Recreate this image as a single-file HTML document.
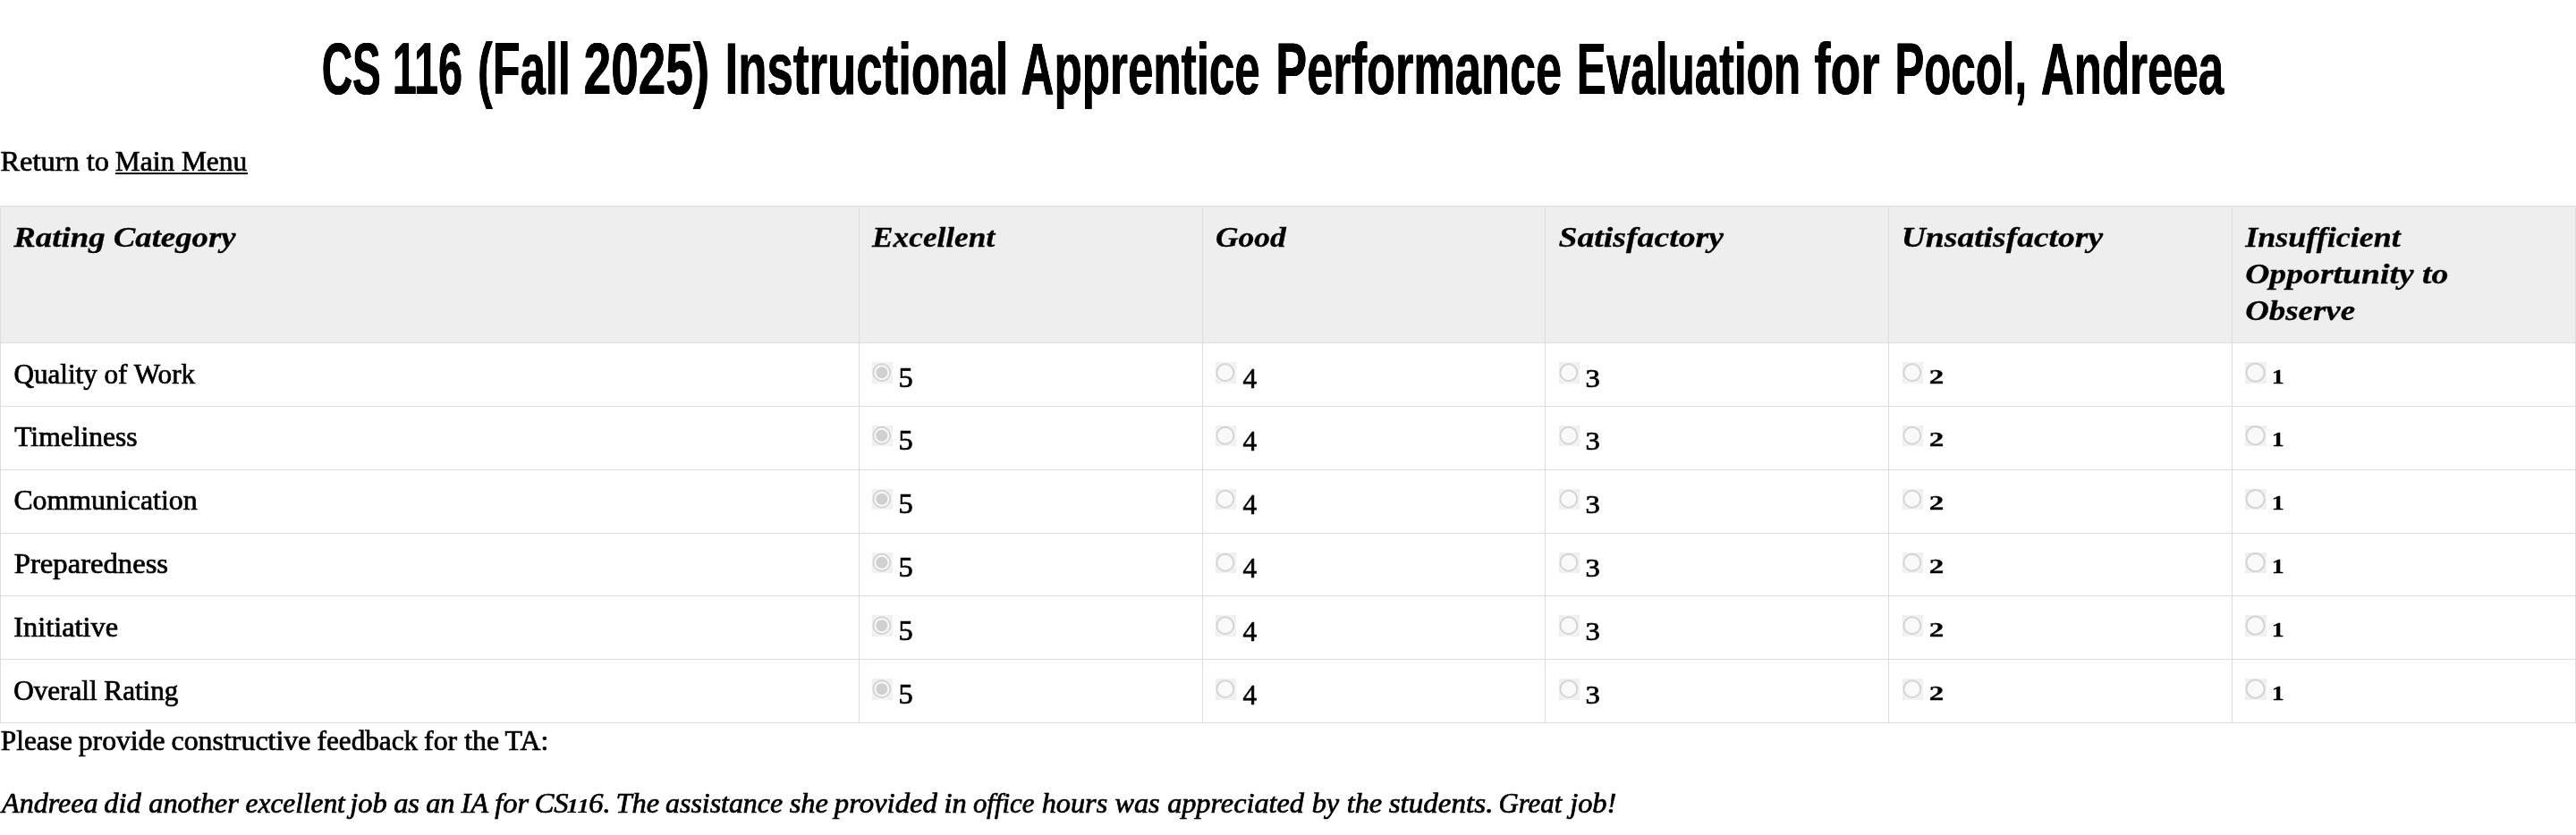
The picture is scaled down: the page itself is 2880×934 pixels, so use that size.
<!DOCTYPE html>
<html><head><meta charset="utf-8"><title>Instructional Apprentice Performance Evaluation</title>
<style>
html,body{margin:0;padding:0;background:#fff;}
body{width:2880px;height:934px;position:relative;overflow:hidden;font-family:"Liberation Serif",serif;}
.t{position:absolute;white-space:nowrap;transform-origin:0 0;margin:0;padding:0;color:#000;}
#w{position:absolute;left:0;top:0;width:2880px;height:934px;will-change:transform;}
.b{position:absolute;display:block;}
</style></head><body>
<svg width="0" height="0" style="position:absolute"><defs><radialGradient id="g" cx="50%" cy="50%" r="70%"><stop offset="0" stop-color="#f8f8f8"/><stop offset="0.6" stop-color="#f5f5f5"/><stop offset="1" stop-color="#ececec"/></radialGradient></defs></svg>
<div class="b" style="left:0;top:231px;width:2880px;height:152px;background:#eee"></div>
<div class="b" style="left:0;top:230px;width:2880px;height:1px;background:#ddd"></div>
<div class="b" style="left:0;top:383px;width:2880px;height:1px;background:#ddd"></div>
<div class="b" style="left:0;top:454px;width:2880px;height:1px;background:#ddd"></div>
<div class="b" style="left:0;top:525px;width:2880px;height:1px;background:#ddd"></div>
<div class="b" style="left:0;top:596px;width:2880px;height:1px;background:#ddd"></div>
<div class="b" style="left:0;top:666px;width:2880px;height:1px;background:#ddd"></div>
<div class="b" style="left:0;top:737px;width:2880px;height:1px;background:#ddd"></div>
<div class="b" style="left:0;top:808px;width:2880px;height:1px;background:#ddd"></div>
<div class="b" style="left:0px;top:230px;width:1px;height:579px;background:#ddd"></div>
<div class="b" style="left:960px;top:230px;width:1px;height:579px;background:#ddd"></div>
<div class="b" style="left:1344px;top:230px;width:1px;height:579px;background:#ddd"></div>
<div class="b" style="left:1727px;top:230px;width:1px;height:579px;background:#ddd"></div>
<div class="b" style="left:2111px;top:230px;width:1px;height:579px;background:#ddd"></div>
<div class="b" style="left:2495px;top:230px;width:1px;height:579px;background:#ddd"></div>
<div class="b" style="left:2879px;top:230px;width:1px;height:579px;background:#ddd"></div>
<div class="b" style="left:129px;top:193px;width:148px;height:2px;background:#000"></div>
<svg class="b" style="left:975px;top:405px" width="23" height="24" viewBox="0 0 23 24"><rect width="23" height="24" fill="url(#g)"/><circle cx="10.85" cy="11.65" r="9.5" fill="#f9f9f9" stroke="#d4d4d4" stroke-width="2"/><circle cx="10.85" cy="11.65" r="6.5" fill="#d0d0d0"/></svg>
<svg class="b" style="left:1359px;top:405px" width="23" height="24" viewBox="0 0 23 24"><rect width="23" height="24" fill="url(#g)"/><circle cx="10.85" cy="11.65" r="9.5" fill="#f9f9f9" stroke="#d4d4d4" stroke-width="2"/></svg>
<svg class="b" style="left:1743px;top:405px" width="23" height="24" viewBox="0 0 23 24"><rect width="23" height="24" fill="url(#g)"/><circle cx="10.85" cy="11.65" r="9.5" fill="#f9f9f9" stroke="#d4d4d4" stroke-width="2"/></svg>
<svg class="b" style="left:2127px;top:405px" width="23" height="24" viewBox="0 0 23 24"><rect width="23" height="24" fill="url(#g)"/><circle cx="10.85" cy="11.65" r="9.5" fill="#f9f9f9" stroke="#d4d4d4" stroke-width="2"/></svg>
<svg class="b" style="left:2510px;top:405px" width="24" height="24" viewBox="0 0 24 24"><rect width="24" height="24" fill="url(#g)"/><circle cx="11.6" cy="11.65" r="10.1" fill="#f9f9f9" stroke="#d4d4d4" stroke-width="2"/></svg>
<svg class="b" style="left:975px;top:476px" width="23" height="23" viewBox="0 0 23 23"><rect width="23" height="23" fill="url(#g)"/><circle cx="10.85" cy="11.15" r="9.5" fill="#f9f9f9" stroke="#d4d4d4" stroke-width="2"/><circle cx="10.85" cy="11.15" r="6.5" fill="#d0d0d0"/></svg>
<svg class="b" style="left:1359px;top:476px" width="23" height="23" viewBox="0 0 23 23"><rect width="23" height="23" fill="url(#g)"/><circle cx="10.85" cy="11.15" r="9.5" fill="#f9f9f9" stroke="#d4d4d4" stroke-width="2"/></svg>
<svg class="b" style="left:1743px;top:476px" width="23" height="23" viewBox="0 0 23 23"><rect width="23" height="23" fill="url(#g)"/><circle cx="10.85" cy="11.15" r="9.5" fill="#f9f9f9" stroke="#d4d4d4" stroke-width="2"/></svg>
<svg class="b" style="left:2127px;top:476px" width="23" height="23" viewBox="0 0 23 23"><rect width="23" height="23" fill="url(#g)"/><circle cx="10.85" cy="11.15" r="9.5" fill="#f9f9f9" stroke="#d4d4d4" stroke-width="2"/></svg>
<svg class="b" style="left:2510px;top:476px" width="24" height="23" viewBox="0 0 24 23"><rect width="24" height="23" fill="url(#g)"/><circle cx="11.6" cy="11.15" r="10.1" fill="#f9f9f9" stroke="#d4d4d4" stroke-width="2"/></svg>
<svg class="b" style="left:975px;top:547px" width="23" height="23" viewBox="0 0 23 23"><rect width="23" height="23" fill="url(#g)"/><circle cx="10.85" cy="11.15" r="9.5" fill="#f9f9f9" stroke="#d4d4d4" stroke-width="2"/><circle cx="10.85" cy="11.15" r="6.5" fill="#d0d0d0"/></svg>
<svg class="b" style="left:1359px;top:547px" width="23" height="23" viewBox="0 0 23 23"><rect width="23" height="23" fill="url(#g)"/><circle cx="10.85" cy="11.15" r="9.5" fill="#f9f9f9" stroke="#d4d4d4" stroke-width="2"/></svg>
<svg class="b" style="left:1743px;top:547px" width="23" height="23" viewBox="0 0 23 23"><rect width="23" height="23" fill="url(#g)"/><circle cx="10.85" cy="11.15" r="9.5" fill="#f9f9f9" stroke="#d4d4d4" stroke-width="2"/></svg>
<svg class="b" style="left:2127px;top:547px" width="23" height="23" viewBox="0 0 23 23"><rect width="23" height="23" fill="url(#g)"/><circle cx="10.85" cy="11.15" r="9.5" fill="#f9f9f9" stroke="#d4d4d4" stroke-width="2"/></svg>
<svg class="b" style="left:2510px;top:547px" width="24" height="23" viewBox="0 0 24 23"><rect width="24" height="23" fill="url(#g)"/><circle cx="11.6" cy="11.15" r="10.1" fill="#f9f9f9" stroke="#d4d4d4" stroke-width="2"/></svg>
<svg class="b" style="left:975px;top:618px" width="23" height="23" viewBox="0 0 23 23"><rect width="23" height="23" fill="url(#g)"/><circle cx="10.85" cy="11.15" r="9.5" fill="#f9f9f9" stroke="#d4d4d4" stroke-width="2"/><circle cx="10.85" cy="11.15" r="6.5" fill="#d0d0d0"/></svg>
<svg class="b" style="left:1359px;top:618px" width="23" height="23" viewBox="0 0 23 23"><rect width="23" height="23" fill="url(#g)"/><circle cx="10.85" cy="11.15" r="9.5" fill="#f9f9f9" stroke="#d4d4d4" stroke-width="2"/></svg>
<svg class="b" style="left:1743px;top:618px" width="23" height="23" viewBox="0 0 23 23"><rect width="23" height="23" fill="url(#g)"/><circle cx="10.85" cy="11.15" r="9.5" fill="#f9f9f9" stroke="#d4d4d4" stroke-width="2"/></svg>
<svg class="b" style="left:2127px;top:618px" width="23" height="23" viewBox="0 0 23 23"><rect width="23" height="23" fill="url(#g)"/><circle cx="10.85" cy="11.15" r="9.5" fill="#f9f9f9" stroke="#d4d4d4" stroke-width="2"/></svg>
<svg class="b" style="left:2510px;top:618px" width="24" height="23" viewBox="0 0 24 23"><rect width="24" height="23" fill="url(#g)"/><circle cx="11.6" cy="11.15" r="10.1" fill="#f9f9f9" stroke="#d4d4d4" stroke-width="2"/></svg>
<svg class="b" style="left:975px;top:688px" width="23" height="24" viewBox="0 0 23 24"><rect width="23" height="24" fill="url(#g)"/><circle cx="10.85" cy="11.65" r="9.5" fill="#f9f9f9" stroke="#d4d4d4" stroke-width="2"/><circle cx="10.85" cy="11.65" r="6.5" fill="#d0d0d0"/></svg>
<svg class="b" style="left:1359px;top:688px" width="23" height="24" viewBox="0 0 23 24"><rect width="23" height="24" fill="url(#g)"/><circle cx="10.85" cy="11.65" r="9.5" fill="#f9f9f9" stroke="#d4d4d4" stroke-width="2"/></svg>
<svg class="b" style="left:1743px;top:688px" width="23" height="24" viewBox="0 0 23 24"><rect width="23" height="24" fill="url(#g)"/><circle cx="10.85" cy="11.65" r="9.5" fill="#f9f9f9" stroke="#d4d4d4" stroke-width="2"/></svg>
<svg class="b" style="left:2127px;top:688px" width="23" height="24" viewBox="0 0 23 24"><rect width="23" height="24" fill="url(#g)"/><circle cx="10.85" cy="11.65" r="9.5" fill="#f9f9f9" stroke="#d4d4d4" stroke-width="2"/></svg>
<svg class="b" style="left:2510px;top:688px" width="24" height="24" viewBox="0 0 24 24"><rect width="24" height="24" fill="url(#g)"/><circle cx="11.6" cy="11.65" r="10.1" fill="#f9f9f9" stroke="#d4d4d4" stroke-width="2"/></svg>
<svg class="b" style="left:975px;top:759px" width="23" height="24" viewBox="0 0 23 24"><rect width="23" height="24" fill="url(#g)"/><circle cx="10.85" cy="11.65" r="9.5" fill="#f9f9f9" stroke="#d4d4d4" stroke-width="2"/><circle cx="10.85" cy="11.65" r="6.5" fill="#d0d0d0"/></svg>
<svg class="b" style="left:1359px;top:759px" width="23" height="24" viewBox="0 0 23 24"><rect width="23" height="24" fill="url(#g)"/><circle cx="10.85" cy="11.65" r="9.5" fill="#f9f9f9" stroke="#d4d4d4" stroke-width="2"/></svg>
<svg class="b" style="left:1743px;top:759px" width="23" height="24" viewBox="0 0 23 24"><rect width="23" height="24" fill="url(#g)"/><circle cx="10.85" cy="11.65" r="9.5" fill="#f9f9f9" stroke="#d4d4d4" stroke-width="2"/></svg>
<svg class="b" style="left:2127px;top:759px" width="23" height="24" viewBox="0 0 23 24"><rect width="23" height="24" fill="url(#g)"/><circle cx="10.85" cy="11.65" r="9.5" fill="#f9f9f9" stroke="#d4d4d4" stroke-width="2"/></svg>
<svg class="b" style="left:2510px;top:759px" width="24" height="24" viewBox="0 0 24 24"><rect width="24" height="24" fill="url(#g)"/><circle cx="11.6" cy="11.65" r="10.1" fill="#f9f9f9" stroke="#d4d4d4" stroke-width="2"/></svg>
<div id="w">
<div class="t" style="left:359px;top:28px;font:normal bold 82.00px/97px 'Liberation Sans',sans-serif;transform:translate(0.69px,0) scale(0.5809,1);text-shadow:0.45px 0 0 #000,-0.45px 0 0 #000;">CS</div>
<div class="t" style="left:438px;top:28px;font:normal bold 82.00px/97px 'Liberation Sans',sans-serif;transform:translate(0.68px,0) scale(0.5932,1);text-shadow:0.45px 0 0 #000,-0.45px 0 0 #000;">116</div>
<div class="t" style="left:534px;top:28px;font:normal bold 82.00px/97px 'Liberation Sans',sans-serif;transform:translate(0.03px,0) scale(0.6158,1);text-shadow:0.45px 0 0 #000,-0.45px 0 0 #000;">(Fall</div>
<div class="t" style="left:652px;top:28px;font:normal bold 82.00px/97px 'Liberation Sans',sans-serif;transform:translate(0.65px,0) scale(0.6703,1);text-shadow:0.45px 0 0 #000,-0.45px 0 0 #000;">2025)</div>
<div class="t" style="left:810px;top:28px;font:normal bold 82.00px/97px 'Liberation Sans',sans-serif;transform:translate(0.57px,0) scale(0.6439,1);text-shadow:0.45px 0 0 #000,-0.45px 0 0 #000;">Instructional</div>
<div class="t" style="left:1141px;top:28px;font:normal bold 82.00px/97px 'Liberation Sans',sans-serif;transform:translate(0.58px,0) scale(0.6239,1);text-shadow:0.45px 0 0 #000,-0.45px 0 0 #000;">Apprentice</div>
<div class="t" style="left:1426px;top:28px;font:normal bold 82.00px/97px 'Liberation Sans',sans-serif;transform:translate(0.30px,0) scale(0.6380,1);text-shadow:0.45px 0 0 #000,-0.45px 0 0 #000;">Performance</div>
<div class="t" style="left:1762px;top:28px;font:normal bold 82.00px/97px 'Liberation Sans',sans-serif;transform:translate(0.68px,0) scale(0.6040,1);text-shadow:0.45px 0 0 #000,-0.45px 0 0 #000;">Evaluation</div>
<div class="t" style="left:2028px;top:28px;font:normal bold 82.00px/97px 'Liberation Sans',sans-serif;transform:translate(0.27px,0) scale(0.6716,1);text-shadow:0.45px 0 0 #000,-0.45px 0 0 #000;">for</div>
<div class="t" style="left:2118px;top:28px;font:normal bold 82.00px/97px 'Liberation Sans',sans-serif;transform:translate(0.50px,0) scale(0.5999,1);text-shadow:0.45px 0 0 #000,-0.45px 0 0 #000;">Pocol,</div>
<div class="t" style="left:2281px;top:28px;font:normal bold 82.00px/97px 'Liberation Sans',sans-serif;transform:translate(0.88px,0) scale(0.6225,1);text-shadow:0.45px 0 0 #000,-0.45px 0 0 #000;">Andreea</div>
<div class="t" style="left:0px;top:161px;font:normal normal 30.50px/40px 'Liberation Serif',serif;transform:translate(0.54px,0) scale(1.0610,1);-webkit-text-stroke:0.7px #000;">Return to</div>
<div class="t" style="left:128px;top:161px;font:normal normal 30.50px/40px 'Liberation Serif',serif;transform:translate(0.87px,0) scale(1.0286,1);-webkit-text-stroke:0.7px #000;">Main Menu</div>
<div class="t" style="left:15px;top:246px;font:italic bold 30.80px/40px 'Liberation Serif',serif;transform:translate(0.33px,0) scale(1.1942,1);-webkit-text-stroke:0.3px #000;">Rating Category</div>
<div class="t" style="left:975px;top:246px;font:italic bold 30.80px/40px 'Liberation Serif',serif;transform:translate(0.10px,0) scale(1.1447,1);-webkit-text-stroke:0.3px #000;">Excellent</div>
<div class="t" style="left:1358px;top:246px;font:italic bold 30.80px/40px 'Liberation Serif',serif;transform:translate(0.88px,0) scale(1.1533,1);-webkit-text-stroke:0.3px #000;">Good</div>
<div class="t" style="left:1742px;top:246px;font:italic bold 30.80px/40px 'Liberation Serif',serif;transform:translate(0.38px,0) scale(1.2269,1);-webkit-text-stroke:0.3px #000;">Satisfactory</div>
<div class="t" style="left:2125px;top:246px;font:italic bold 30.80px/40px 'Liberation Serif',serif;transform:translate(0.75px,0) scale(1.2196,1);-webkit-text-stroke:0.3px #000;">Unsatisfactory</div>
<div class="t" style="left:2510px;top:246px;font:italic bold 30.80px/40px 'Liberation Serif',serif;transform:translate(0.31px,0) scale(1.1688,1);-webkit-text-stroke:0.3px #000;">Insufficient</div>
<div class="t" style="left:2510px;top:287px;font:italic bold 30.80px/40px 'Liberation Serif',serif;transform:translate(0.13px,0) scale(1.2238,1);-webkit-text-stroke:0.3px #000;">Opportunity to</div>
<div class="t" style="left:2510px;top:328px;font:italic bold 30.80px/40px 'Liberation Serif',serif;transform:translate(0.16px,0) scale(1.1974,1);-webkit-text-stroke:0.3px #000;">Observe</div>
<div class="t" style="left:15px;top:399px;font:normal normal 30.50px/40px 'Liberation Serif',serif;transform:translate(0.40px,0) scale(1.0206,1);-webkit-text-stroke:0.7px #000;">Quality of Work</div>
<div class="t" style="left:1004px;top:403px;font:normal normal 30.53px/40px 'Liberation Serif',serif;transform:translate(0.57px,0) scale(1.0627,1);-webkit-text-stroke:0.7px #000;">5</div>
<div class="t" style="left:1389px;top:403px;font:normal normal 31.06px/41px 'Liberation Serif',serif;transform:translate(0.48px,0) scale(1.0070,1);-webkit-text-stroke:0.7px #000;">4</div>
<div class="t" style="left:1772px;top:403px;font:normal normal 30.30px/40px 'Liberation Serif',serif;transform:translate(0.48px,0) scale(1.0766,1);-webkit-text-stroke:0.7px #000;">3</div>
<div class="t" style="left:2156px;top:405px;font:normal bold 23.64px/32px 'Liberation Serif',serif;transform:translate(0.83px,0) scale(1.4002,1);-webkit-text-stroke:0.3px #000;">2</div>
<div class="t" style="left:2539px;top:405px;font:normal bold 23.79px/32px 'Liberation Serif',serif;transform:translate(0.82px,0) scale(1.1703,1);-webkit-text-stroke:0.3px #000;">1</div>
<div class="t" style="left:16px;top:469px;font:normal normal 30.50px/40px 'Liberation Serif',serif;transform:translate(0.18px,0) scale(1.0353,1);-webkit-text-stroke:0.7px #000;">Timeliness</div>
<div class="t" style="left:1004px;top:473px;font:normal normal 30.53px/40px 'Liberation Serif',serif;transform:translate(0.57px,0) scale(1.0627,1);-webkit-text-stroke:0.7px #000;">5</div>
<div class="t" style="left:1389px;top:473px;font:normal normal 31.06px/41px 'Liberation Serif',serif;transform:translate(0.48px,0) scale(1.0070,1);-webkit-text-stroke:0.7px #000;">4</div>
<div class="t" style="left:1772px;top:473px;font:normal normal 30.30px/40px 'Liberation Serif',serif;transform:translate(0.48px,0) scale(1.0766,1);-webkit-text-stroke:0.7px #000;">3</div>
<div class="t" style="left:2156px;top:475px;font:normal bold 23.64px/32px 'Liberation Serif',serif;transform:translate(0.83px,0) scale(1.4002,1);-webkit-text-stroke:0.3px #000;">2</div>
<div class="t" style="left:2539px;top:475px;font:normal bold 23.79px/32px 'Liberation Serif',serif;transform:translate(0.82px,0) scale(1.1703,1);-webkit-text-stroke:0.3px #000;">1</div>
<div class="t" style="left:15px;top:540px;font:normal normal 30.50px/40px 'Liberation Serif',serif;transform:translate(0.38px,0) scale(1.0443,1);-webkit-text-stroke:0.7px #000;">Communication</div>
<div class="t" style="left:1004px;top:544px;font:normal normal 30.53px/40px 'Liberation Serif',serif;transform:translate(0.57px,0) scale(1.0627,1);-webkit-text-stroke:0.7px #000;">5</div>
<div class="t" style="left:1389px;top:544px;font:normal normal 31.06px/41px 'Liberation Serif',serif;transform:translate(0.48px,0) scale(1.0070,1);-webkit-text-stroke:0.7px #000;">4</div>
<div class="t" style="left:1772px;top:544px;font:normal normal 30.30px/40px 'Liberation Serif',serif;transform:translate(0.48px,0) scale(1.0766,1);-webkit-text-stroke:0.7px #000;">3</div>
<div class="t" style="left:2156px;top:546px;font:normal bold 23.64px/32px 'Liberation Serif',serif;transform:translate(0.83px,0) scale(1.4002,1);-webkit-text-stroke:0.3px #000;">2</div>
<div class="t" style="left:2539px;top:546px;font:normal bold 23.79px/32px 'Liberation Serif',serif;transform:translate(0.82px,0) scale(1.1703,1);-webkit-text-stroke:0.3px #000;">1</div>
<div class="t" style="left:15px;top:611px;font:normal normal 30.50px/40px 'Liberation Serif',serif;transform:translate(0.83px,0) scale(1.0703,1);-webkit-text-stroke:0.7px #000;">Preparedness</div>
<div class="t" style="left:1004px;top:615px;font:normal normal 30.53px/40px 'Liberation Serif',serif;transform:translate(0.57px,0) scale(1.0627,1);-webkit-text-stroke:0.7px #000;">5</div>
<div class="t" style="left:1389px;top:615px;font:normal normal 31.06px/41px 'Liberation Serif',serif;transform:translate(0.48px,0) scale(1.0070,1);-webkit-text-stroke:0.7px #000;">4</div>
<div class="t" style="left:1772px;top:615px;font:normal normal 30.30px/40px 'Liberation Serif',serif;transform:translate(0.48px,0) scale(1.0766,1);-webkit-text-stroke:0.7px #000;">3</div>
<div class="t" style="left:2156px;top:617px;font:normal bold 23.64px/32px 'Liberation Serif',serif;transform:translate(0.83px,0) scale(1.4002,1);-webkit-text-stroke:0.3px #000;">2</div>
<div class="t" style="left:2539px;top:617px;font:normal bold 23.79px/32px 'Liberation Serif',serif;transform:translate(0.82px,0) scale(1.1703,1);-webkit-text-stroke:0.3px #000;">1</div>
<div class="t" style="left:15px;top:682px;font:normal normal 30.50px/40px 'Liberation Serif',serif;transform:translate(0.32px,0) scale(1.0611,1);-webkit-text-stroke:0.7px #000;">Initiative</div>
<div class="t" style="left:1004px;top:686px;font:normal normal 30.53px/40px 'Liberation Serif',serif;transform:translate(0.57px,0) scale(1.0627,1);-webkit-text-stroke:0.7px #000;">5</div>
<div class="t" style="left:1389px;top:686px;font:normal normal 31.06px/41px 'Liberation Serif',serif;transform:translate(0.48px,0) scale(1.0070,1);-webkit-text-stroke:0.7px #000;">4</div>
<div class="t" style="left:1772px;top:686px;font:normal normal 30.30px/40px 'Liberation Serif',serif;transform:translate(0.48px,0) scale(1.0766,1);-webkit-text-stroke:0.7px #000;">3</div>
<div class="t" style="left:2156px;top:688px;font:normal bold 23.64px/32px 'Liberation Serif',serif;transform:translate(0.83px,0) scale(1.4002,1);-webkit-text-stroke:0.3px #000;">2</div>
<div class="t" style="left:2539px;top:688px;font:normal bold 23.79px/32px 'Liberation Serif',serif;transform:translate(0.82px,0) scale(1.1703,1);-webkit-text-stroke:0.3px #000;">1</div>
<div class="t" style="left:15px;top:753px;font:normal normal 30.50px/40px 'Liberation Serif',serif;transform:translate(0.20px,0) scale(1.0211,1);-webkit-text-stroke:0.7px #000;">Overall Rating</div>
<div class="t" style="left:1004px;top:757px;font:normal normal 30.53px/40px 'Liberation Serif',serif;transform:translate(0.57px,0) scale(1.0627,1);-webkit-text-stroke:0.7px #000;">5</div>
<div class="t" style="left:1389px;top:757px;font:normal normal 31.06px/41px 'Liberation Serif',serif;transform:translate(0.48px,0) scale(1.0070,1);-webkit-text-stroke:0.7px #000;">4</div>
<div class="t" style="left:1772px;top:757px;font:normal normal 30.30px/40px 'Liberation Serif',serif;transform:translate(0.48px,0) scale(1.0766,1);-webkit-text-stroke:0.7px #000;">3</div>
<div class="t" style="left:2156px;top:759px;font:normal bold 23.64px/32px 'Liberation Serif',serif;transform:translate(0.83px,0) scale(1.4002,1);-webkit-text-stroke:0.3px #000;">2</div>
<div class="t" style="left:2539px;top:759px;font:normal bold 23.79px/32px 'Liberation Serif',serif;transform:translate(0.82px,0) scale(1.1703,1);-webkit-text-stroke:0.3px #000;">1</div>
<div class="t" style="left:0px;top:809px;font:normal normal 30.50px/40px 'Liberation Serif',serif;transform:translate(0.87px,0) scale(1.0260,1);-webkit-text-stroke:0.7px #000;">Please</div>
<div class="t" style="left:87px;top:809px;font:normal normal 30.50px/40px 'Liberation Serif',serif;transform:translate(0.77px,0) scale(1.0384,1);-webkit-text-stroke:0.7px #000;">provide</div>
<div class="t" style="left:191px;top:809px;font:normal normal 30.50px/40px 'Liberation Serif',serif;transform:translate(0.53px,0) scale(1.0452,1);-webkit-text-stroke:0.7px #000;">constructive</div>
<div class="t" style="left:354px;top:809px;font:normal normal 30.50px/40px 'Liberation Serif',serif;transform:translate(0.62px,0) scale(1.0216,1);-webkit-text-stroke:0.7px #000;">feedback</div>
<div class="t" style="left:474px;top:809px;font:normal normal 30.50px/40px 'Liberation Serif',serif;transform:translate(0.12px,0) scale(1.0419,1);-webkit-text-stroke:0.7px #000;">for</div>
<div class="t" style="left:519px;top:809px;font:normal normal 30.50px/40px 'Liberation Serif',serif;transform:translate(0.25px,0) scale(1.0419,1);-webkit-text-stroke:0.7px #000;">the</div>
<div class="t" style="left:564px;top:809px;font:normal normal 30.50px/40px 'Liberation Serif',serif;transform:translate(0.58px,0) scale(1.0419,1);-webkit-text-stroke:0.7px #000;">TA:</div>
<div class="t" style="left:2px;top:879px;font:italic normal 30.50px/40px 'Liberation Serif',serif;transform:translate(0.11px,0) scale(1.0506,1);-webkit-text-stroke:0.7px #000;">Andreea</div>
<div class="t" style="left:116px;top:879px;font:italic normal 30.50px/40px 'Liberation Serif',serif;transform:translate(0.33px,0) scale(1.0624,1);-webkit-text-stroke:0.7px #000;">did</div>
<div class="t" style="left:166px;top:879px;font:italic normal 30.50px/40px 'Liberation Serif',serif;transform:translate(0.24px,0) scale(1.0594,1);-webkit-text-stroke:0.7px #000;">another</div>
<div class="t" style="left:274px;top:879px;font:italic normal 30.50px/40px 'Liberation Serif',serif;transform:translate(0.61px,0) scale(1.0257,1);-webkit-text-stroke:0.7px #000;">excellent</div>
<div class="t" style="left:391px;top:879px;font:italic normal 30.50px/40px 'Liberation Serif',serif;transform:translate(0.22px,0) scale(1.0624,1);-webkit-text-stroke:0.7px #000;">job</div>
<div class="t" style="left:440px;top:879px;font:italic normal 30.50px/40px 'Liberation Serif',serif;transform:translate(0.16px,0) scale(1.0624,1);-webkit-text-stroke:0.7px #000;">as</div>
<div class="t" style="left:476px;top:879px;font:italic normal 30.50px/40px 'Liberation Serif',serif;transform:translate(0.14px,0) scale(1.0624,1);-webkit-text-stroke:0.7px #000;">an</div>
<div class="t" style="left:515px;top:879px;font:italic normal 30.50px/40px 'Liberation Serif',serif;transform:translate(0.52px,0) scale(1.0624,1);-webkit-text-stroke:0.7px #000;">IA</div>
<div class="t" style="left:553px;top:879px;font:italic normal 30.50px/40px 'Liberation Serif',serif;transform:translate(0.25px,0) scale(1.0624,1);-webkit-text-stroke:0.7px #000;">for</div>
<div class="t" style="left:597px;top:879px;font:italic normal 30.50px/40px 'Liberation Serif',serif;transform:translate(0.65px,0) scale(1.0624,1);-webkit-text-stroke:0.7px #000;">CS</div>
<div class="t" style="left:633px;top:885px;font:italic bold 23.94px/32px 'Liberation Serif',serif;transform:translate(0.57px,0) scale(1.1091,1);-webkit-text-stroke:0.2px #000;">11</div>
<div class="t" style="left:658px;top:879px;font:italic normal 30.50px/40px 'Liberation Serif',serif;transform:translate(0.21px,0) scale(1.0624,1);-webkit-text-stroke:0.7px #000;">6.</div>
<div class="t" style="left:688px;top:879px;font:italic normal 30.50px/40px 'Liberation Serif',serif;transform:translate(0.45px,0) scale(1.0624,1);-webkit-text-stroke:0.7px #000;">The</div>
<div class="t" style="left:744px;top:879px;font:italic normal 30.50px/40px 'Liberation Serif',serif;transform:translate(0.05px,0) scale(1.0448,1);-webkit-text-stroke:0.7px #000;">assistance</div>
<div class="t" style="left:882px;top:879px;font:italic normal 30.50px/40px 'Liberation Serif',serif;transform:translate(0.65px,0) scale(1.0624,1);-webkit-text-stroke:0.7px #000;">she</div>
<div class="t" style="left:932px;top:879px;font:italic normal 30.50px/40px 'Liberation Serif',serif;transform:translate(0.81px,0) scale(1.0735,1);-webkit-text-stroke:0.7px #000;">provided</div>
<div class="t" style="left:1055px;top:879px;font:italic normal 30.50px/40px 'Liberation Serif',serif;transform:translate(0.56px,0) scale(1.0624,1);-webkit-text-stroke:0.7px #000;">in</div>
<div class="t" style="left:1087px;top:879px;font:italic normal 30.50px/40px 'Liberation Serif',serif;transform:translate(0.88px,0) scale(1.0119,1);-webkit-text-stroke:0.7px #000;">office</div>
<div class="t" style="left:1164px;top:879px;font:italic normal 30.50px/40px 'Liberation Serif',serif;transform:translate(0.72px,0) scale(1.0573,1);-webkit-text-stroke:0.7px #000;">hours</div>
<div class="t" style="left:1246px;top:879px;font:italic normal 30.50px/40px 'Liberation Serif',serif;transform:translate(0.41px,0) scale(1.0574,1);-webkit-text-stroke:0.7px #000;">was</div>
<div class="t" style="left:1305px;top:879px;font:italic normal 30.50px/40px 'Liberation Serif',serif;transform:translate(0.14px,0) scale(1.0567,1);-webkit-text-stroke:0.7px #000;">appreciated</div>
<div class="t" style="left:1466px;top:879px;font:italic normal 30.50px/40px 'Liberation Serif',serif;transform:translate(0.67px,0) scale(1.0624,1);-webkit-text-stroke:0.7px #000;">by</div>
<div class="t" style="left:1505px;top:879px;font:italic normal 30.50px/40px 'Liberation Serif',serif;transform:translate(0.66px,0) scale(1.0624,1);-webkit-text-stroke:0.7px #000;">the</div>
<div class="t" style="left:1552px;top:879px;font:italic normal 30.50px/40px 'Liberation Serif',serif;transform:translate(0.72px,0) scale(1.0847,1);-webkit-text-stroke:0.7px #000;">students.</div>
<div class="t" style="left:1675px;top:879px;font:italic normal 30.50px/40px 'Liberation Serif',serif;transform:translate(0.56px,0) scale(1.0084,1);-webkit-text-stroke:0.7px #000;">Great</div>
<div class="t" style="left:1755px;top:879px;font:italic normal 30.50px/40px 'Liberation Serif',serif;transform:translate(0.15px,0) scale(1.0624,1);-webkit-text-stroke:0.7px #000;">job!</div>
</div>
</body></html>
